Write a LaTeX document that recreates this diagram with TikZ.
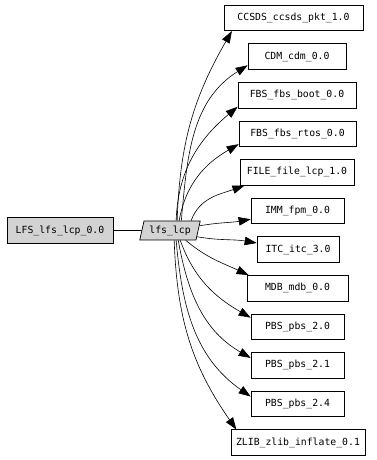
\documentclass[tikz,border=0pt]{standalone}
\usepackage{fontspec}
\newfontfamily\pkgfont{DejaVu Sans Mono}
\usetikzlibrary{arrows.meta,shapes.geometric}
\definecolor{pkggray}{RGB}{211,211,211}
\tikzset{
  pkgbox/.style={draw,line width=0.7pt,minimum height=25.5pt,inner sep=0pt,
    font=\pkgfont\fontsize{9.8}{10}\selectfont},
  modbox/.style={pkgbox,fill=pkggray,trapezium,trapezium left angle=71,
    trapezium right angle=109,trapezium stretches=true,
    minimum width=60.5pt,minimum height=19pt},
  dep/.style={line width=0.6pt,-{Triangle[length=12pt,width=8.5pt]}},
}
\begin{document}
\begin{tikzpicture}[x=1pt,y=1pt]
\useasboundingbox (0,0) rectangle (376,460);

% package and its module
\node[pkgbox,fill=pkggray,minimum width=106pt] (lfs) at (60,229.5) {LFS\_lfs\_lcp\_0.0};
\node[modbox] (lcp) at (170,229.5) {lfs\_lcp};
\draw[line width=0.6pt] (lfs) -- (lcp);

% dependencies (row/name/text/centre x/width/start/out/end/in)
\foreach \i/\name/\txt/\cx/\w/\sa/\out/\ta/\in in {
    0/ccsds/CCSDS\_ccsds\_pkt\_1.0/293.5/139/54/88/192.5/240,
    1/cdm/CDM\_cdm\_0.0/297/98/41/85/190.4/212,
    2/boot/FBS\_fbs\_boot\_0.0/297/118/58/88/191/220,
    3/rtos/FBS\_fbs\_rtos\_0.0/297.5/117/47/80/190.6/210,
    4/file/FILE\_file\_lcp\_1.0/297/114/25/70/194.9/200,
    5/imm/IMM\_fpm\_0.0/297.5/93/9/10/190/190,
    6/itc/ITC\_itc\_3.0/298/82/347/350/171.7/170,
    7/mdb/MDB\_mdb\_0.0/297.5/101/328/320/165.5/155,
    8/pbsa/PBS\_pbs\_2.0/297.5/93/316/290/169.9/150,
    9/pbsb/PBS\_pbs\_2.1/297.5/93/310/280/171/150,
    10/pbsc/PBS\_pbs\_2.4/297.5/93/302/275/171/145,
    11/zlib/ZLIB\_zlib\_inflate\_0.1/298/134/293/272/168.8/125} {
    \node[pkgbox,minimum width=\w pt] (\name) at (\cx,442-38.6*\i) {\txt};
    \draw[dep] (lcp.\sa) to[out=\out,in=\in] (\name.\ta);
}

\end{tikzpicture}
\end{document}
